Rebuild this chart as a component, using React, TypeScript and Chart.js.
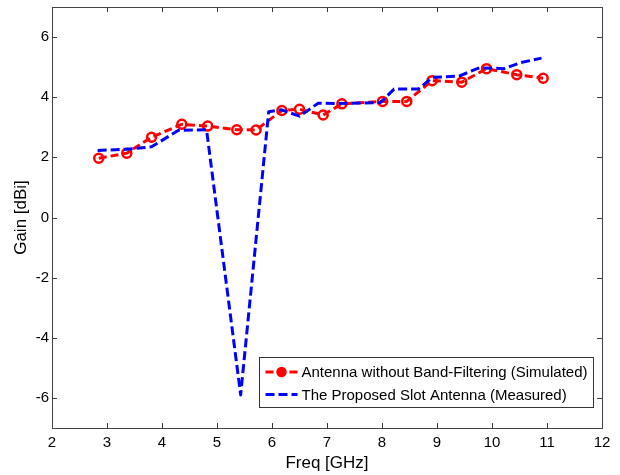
import React, { useEffect, useRef } from "react";
import { Chart, registerables } from "chart.js";

Chart.register(...registerables);

// ---- data ----
const simFreq = [2.85, 3.36, 3.81, 4.36, 4.83, 5.36, 5.71, 6.18, 6.5, 6.93, 7.27, 8.01, 8.45, 8.91, 9.45, 9.9, 10.45, 10.93];
const simGain = [1.97, 2.14, 2.67, 3.1, 3.04, 2.92, 2.91, 3.56, 3.6, 3.41, 3.78, 3.86, 3.86, 4.55, 4.5, 4.95, 4.75, 4.63];

const measFreq = [2.83, 3.36, 3.81, 4.3, 4.81, 5.43, 5.94, 6.17, 6.5, 6.84, 7.2, 7.97, 8.22, 8.66, 8.92, 9.4, 9.77, 10.22, 10.52, 10.9];
const measGain = [2.23, 2.27, 2.35, 2.9, 2.92, -5.9, 3.52, 3.58, 3.37, 3.8, 3.79, 3.82, 4.27, 4.27, 4.66, 4.7, 4.98, 4.95, 5.15, 5.3];

const xTickValues = [2, 3, 4, 5, 6, 7, 8, 9, 10, 11, 12];
const yTickValues = [-6, -4, -2, 0, 2, 4, 6];

const simLabel = "Antenna without Band-Filtering (Simulated)";
const measLabel = "The Proposed Slot Antenna (Measured)";
const xTitle = "Freq [GHz]";
const yTitle = "Gain [dBi]";

const FONT = "'Liberation Sans', Arial, sans-serif";

const boxPlugin = {
  id: "matlabBox",
  afterDraw(chart: any) {
    const { ctx, chartArea } = chart;
    const { left, right, top, bottom } = chartArea;
    const xs = chart.scales.x;
    const ys = chart.scales.y;
    const tl = 5;
    ctx.save();
    ctx.strokeStyle = "#3a3a3a";
    ctx.lineWidth = 1;
    ctx.setLineDash([]);
    ctx.beginPath();
    for (const v of xTickValues) {
      const px = Math.round(xs.getPixelForValue(v)) + 0.5;
      ctx.moveTo(px, bottom);
      ctx.lineTo(px, bottom - tl);
      ctx.moveTo(px, top);
      ctx.lineTo(px, top + tl);
    }
    for (const v of yTickValues) {
      const py = Math.round(ys.getPixelForValue(v)) + 0.5;
      ctx.moveTo(left, py);
      ctx.lineTo(left + tl, py);
      ctx.moveTo(right, py);
      ctx.lineTo(right - tl, py);
    }
    ctx.stroke();
    ctx.strokeStyle = "#444";
    ctx.strokeRect(Math.round(left) + 0.5, Math.round(top) + 0.5, Math.round(right - left), Math.round(bottom - top));

    // legend
    const ds = chart.data.datasets;
    ctx.font = `15px ${FONT}`;
    const labels = [simLabel, measLabel];
    const tw = Math.max(...labels.map((l) => ctx.measureText(l).width));
    const bw = 42 + tw + 6;
    const bh = 50;
    const bx = Math.round(right - 9 - bw) + 0.5;
    const by = Math.round(bottom - 21 - bh) + 0.5;
    ctx.fillStyle = "#fff";
    ctx.fillRect(bx, by, bw, bh);
    ctx.strokeStyle = "#333";
    ctx.lineWidth = 1;
    ctx.strokeRect(bx, by, bw, bh);
    const rows = [by + 14.5, by + 37];
    const order = [1, 0];
    rows.forEach((ry, i) => {
      const d = ds[order[i]];
      ctx.save();
      ctx.strokeStyle = d.borderColor;
      ctx.lineWidth = d.borderWidth;
      ctx.setLineDash(d.borderDash);
      ctx.beginPath();
      ctx.moveTo(bx + 6, ry);
      ctx.lineTo(bx + 38, ry);
      ctx.stroke();
      ctx.setLineDash([]);
      if (d.pointRadius > 0) {
        ctx.lineWidth = d.pointBorderWidth;
        ctx.strokeStyle = d.pointBorderColor;
        ctx.fillStyle = d.pointBorderColor;
        ctx.beginPath();
        ctx.arc(bx + 22, ry, d.pointRadius - 0.5, 0, Math.PI * 2);
        ctx.fill();
        ctx.stroke();
      }
      ctx.restore();
      ctx.fillStyle = "#000";
      ctx.textBaseline = "middle";
      ctx.textAlign = "left";
      ctx.fillText(labels[i], bx + 42, ry + 1);
    });
    ctx.restore();
  },
};

export default function App() {
  const ref = useRef<HTMLCanvasElement | null>(null);
  useEffect(() => {
    if (!ref.current) return;
    const chart = new Chart(ref.current, {
      type: "line",
      data: {
        datasets: [
          {
            label: measLabel,
            data: measFreq.map((x, i) => ({ x, y: measGain[i] })),
            borderColor: "#0000ff",
            borderWidth: 3,
            borderDash: [9, 4],
            borderJoinStyle: "round",
            pointRadius: 0,
            pointBorderWidth: 0,
            pointBorderColor: "#0000ff",
            fill: false,
            tension: 0,
          },
          {
            label: simLabel,
            data: simFreq.map((x, i) => ({ x, y: simGain[i] })),
            borderColor: "#ff0000",
            borderWidth: 3,
            borderDash: [8, 4],
            borderJoinStyle: "round",
            pointRadius: 4.5,
            pointBorderWidth: 2.5,
            pointBorderColor: "#ff0000",
            pointBackgroundColor: "rgba(255,255,255,0)",
            fill: false,
            tension: 0,
          },
        ] as any,
      },
      options: {
        responsive: false,
        animation: false,
        events: [],
        layout: { padding: { left: 0, right: 18, top: 4, bottom: 0 } },
        plugins: { legend: { display: false }, tooltip: { enabled: false } },
        scales: {
          x: {
            type: "linear",
            min: 2,
            max: 12,
            grid: { display: false, drawTicks: false },
            border: { display: false },
            ticks: { color: "#000", font: { family: FONT, size: 15 }, padding: 6, maxRotation: 0 },
            title: { display: true, text: xTitle, color: "#000", font: { family: FONT, size: 17 }, padding: { top: 0, bottom: 1 } },
            afterBuildTicks: (s: any) => {
              s.ticks = xTickValues.map((v) => ({ value: v }));
            },
            afterFit: (s: any) => {
              s.height = 47;
              s.paddingLeft = 0;
              s.paddingRight = 0;
            },
          },
          y: {
            type: "linear",
            min: -7,
            max: 7,
            grid: { display: false, drawTicks: false },
            border: { display: false },
            ticks: { color: "#000", font: { family: FONT, size: 15 }, padding: 3 },
            title: { display: true, text: yTitle, color: "#000", font: { family: FONT, size: 17 }, padding: { top: 11, bottom: 0 } },
            afterBuildTicks: (s: any) => {
              s.ticks = yTickValues.map((v) => ({ value: v }));
            },
            afterFit: (s: any) => {
              s.width = 52;
              s.paddingTop = 0;
              s.paddingBottom = 0;
            },
          },
        },
      } as any,
      plugins: [boxPlugin],
    });
    return () => chart.destroy();
  }, []);
  return (
    <div style={{ position: "absolute", left: 0, top: 0, width: 620, height: 475, background: "#fff" }}>
      <canvas ref={ref} width={620} height={475} />
    </div>
  );
}
